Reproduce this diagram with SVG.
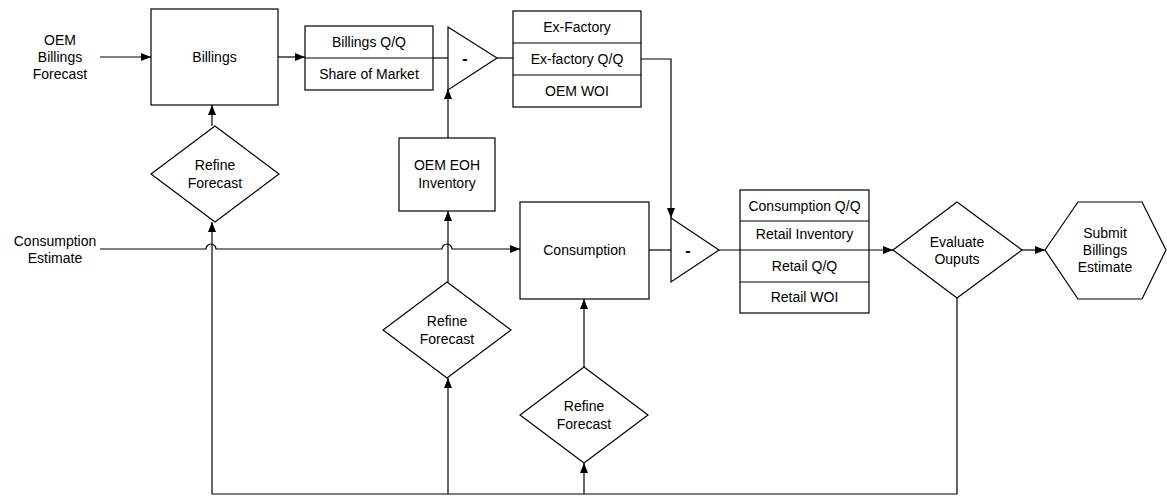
<svg xmlns="http://www.w3.org/2000/svg" width="1167" height="497" viewBox="0 0 1167 497">
<defs>
<marker id="arr" viewBox="0 0 10 8" refX="10" refY="4" markerWidth="10" markerHeight="8" markerUnits="userSpaceOnUse" orient="auto">
<path d="M0,0 L10,4 L0,8 Z" fill="#000"/>
</marker>
<style>
.s{fill:#fff;stroke:#000;stroke-width:1.2}
.l{fill:none;stroke:#000;stroke-width:1.2}
.c{fill:none;stroke:#000;stroke-width:1.2;marker-end:url(#arr)}
text{font-family:"Liberation Sans",Arial,sans-serif;font-size:14px;fill:#000;text-anchor:middle;dominant-baseline:central}
.m{font-weight:bold;font-size:16px}
</style>
</defs>
<rect width="1167" height="497" fill="#fff"/>
<g id="connectors">
<path class="c" d="M100,57 H151"/>
<path class="c" d="M278,57 H305"/>
<path class="l" d="M433,58 H448"/>
<path class="l" d="M497,58 H513"/>
<path class="c" d="M212,126 V105"/>
<path class="c" d="M448,138 V89"/>
<path class="c" d="M641,59 H671 V218"/>
<path class="c" d="M100,249 H206 A5,5 0 0 1 216,249 H442 A5,5 0 0 1 452,249 H520"/>
<path class="c" d="M448,282 V211"/>
<path class="c" d="M584,367 V299"/>
<path class="l" d="M649,250 H671"/>
<path class="c" d="M719,250 H893"/>
<path class="c" d="M1022,250 H1045"/>
<path class="l" d="M957,298 V494 H212"/>
<path class="c" d="M212,494 V222"/>
<path class="c" d="M448,494 V378"/>
<path class="c" d="M584,494 V463"/>
</g>
<g id="oem-billings-forecast">
<text x="60" y="40">OEM</text>
<text x="60" y="57">Billings</text>
<text x="60" y="74">Forecast</text>
</g>
<g id="consumption-estimate">
<text x="55" y="241">Consumption</text>
<text x="55" y="258">Estimate</text>
</g>
<g id="billings">
<rect class="s" x="151" y="9" width="127" height="96"/>
<text x="214.5" y="57">Billings</text>
</g>
<g id="billings-qq">
<rect class="s" x="305" y="26" width="128" height="64"/>
<path class="l" d="M305,58 H433"/>
<text x="369" y="42">Billings Q/Q</text>
<text x="369" y="74">Share of Market</text>
</g>
<g id="subtract-1">
<path class="s" d="M448,27 L497,58 L448,90 Z"/>
<text class="m" x="465" y="58">-</text>
</g>
<g id="ex-factory">
<rect class="s" x="513" y="11" width="128" height="96"/>
<path class="l" d="M513,43 H641 M513,75 H641"/>
<text x="577" y="27">Ex-Factory</text>
<text x="577" y="59">Ex-factory Q/Q</text>
<text x="577" y="91">OEM WOI</text>
</g>
<g id="refine-forecast-1">
<path class="s" d="M215,126 L279,174 L215,222 L151,174 Z"/>
<text x="215" y="165">Refine</text>
<text x="215" y="183">Forecast</text>
</g>
<g id="oem-eoh-inventory">
<rect class="s" x="399" y="138" width="96" height="73"/>
<text x="447" y="165">OEM EOH</text>
<text x="447" y="183">Inventory</text>
</g>
<g id="consumption">
<rect class="s" x="520" y="202" width="129" height="97"/>
<text x="584.5" y="250">Consumption</text>
</g>
<g id="refine-forecast-2">
<path class="s" d="M447,282 L511,330 L447,378 L383,330 Z"/>
<text x="447" y="321">Refine</text>
<text x="447" y="339">Forecast</text>
</g>
<g id="refine-forecast-3">
<path class="s" d="M584,367 L648,415 L584,463 L520,415 Z"/>
<text x="584" y="406">Refine</text>
<text x="584" y="424">Forecast</text>
</g>
<g id="subtract-2">
<path class="s" d="M671,218 L719,250 L671,282 Z"/>
<text class="m" x="688" y="250">-</text>
</g>
<g id="retail">
<rect class="s" x="740" y="190" width="129" height="123"/>
<path class="l" d="M740,221 H869 M740,282 H869"/>
<path class="l" d="M740,250 H869"/>
<text x="804.5" y="206">Consumption Q/Q</text>
<text x="804.5" y="234">Retail Inventory</text>
<text x="804.5" y="266">Retail Q/Q</text>
<text x="804.5" y="297">Retail WOI</text>
</g>
<g id="evaluate-outputs">
<path class="s" d="M957,202 L1022,250 L957,298 L893,250 Z"/>
<text x="957" y="242">Evaluate</text>
<text x="957" y="259">Ouputs</text>
</g>
<g id="submit-billings-estimate">
<path class="s" d="M1045,250 L1078,202 L1142,202 L1166,250 L1142,299 L1078,299 Z"/>
<text x="1105" y="233">Submit</text>
<text x="1105" y="250">Billings</text>
<text x="1105" y="267">Estimate</text>
</g>
</svg>
